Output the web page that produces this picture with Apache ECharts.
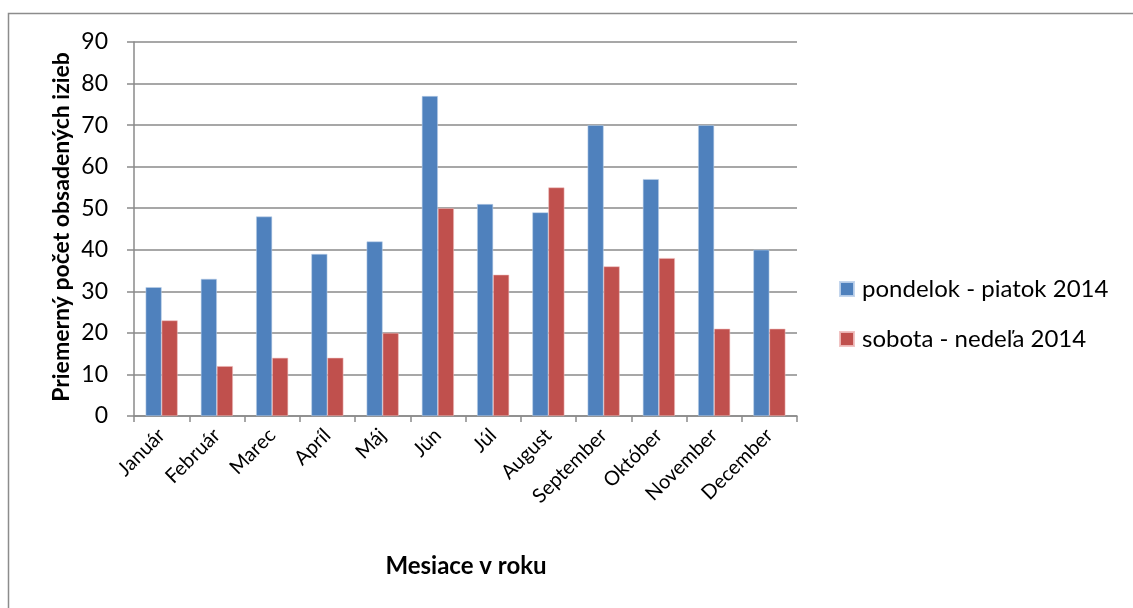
<!DOCTYPE html>
<html>
<head>
<meta charset="utf-8">
<script src="https://cdn.jsdelivr.net/npm/echarts@6/dist/echarts.min.js"></script>
<style>
  html, body { margin: 0; padding: 0; background: #fff; }
  #chart { width: 1133px; height: 608px; }
</style>
</head>
<body>
<div id="chart"></div>
<script>
// Months of the year
const months = ['Január', 'Február', 'Marec', 'Apríl', 'Máj', 'Jún', 'Júl', 'August', 'September', 'Október', 'November', 'December'];
// Average occupied rooms, weekdays
const weekdays2014 = [31, 33, 48, 39, 42, 77, 51, 49, 70, 57, 70, 40];
// Average occupied rooms, weekends
const weekends2014 = [23, 12, 14, 14, 20, 50, 34, 55, 36, 38, 21, 21];
const seriesNames = ['pondelok - piatok 2014', 'sobota - nedeľa 2014'];
const yTitle = 'Priemerný počet obsadených izieb';
const xTitle = 'Mesiace v roku';

const FONT = 'Lato, "Open Sans", sans-serif';
const GRID_COLOR = '#8a8a8a';

const chart = echarts.init(document.getElementById('chart'), null, { renderer: 'canvas' });

chart.setOption({
  animation: false,
  backgroundColor: '#fff',
  textStyle: { fontFamily: FONT },
  grid: { left: 134, top: 42, right: 336, bottom: 192, containLabel: false },
  legend: {
    orient: 'vertical',
    left: 839,
    top: 277,
    padding: 0,
    itemWidth: 14,
    itemHeight: 14,
    itemGap: 26,
    icon: 'rect',
    textStyle: { fontFamily: FONT, fontSize: 24, color: '#000', lineHeight: 24, padding: [0, 0, 0, 3] },
    data: seriesNames
  },
  xAxis: {
    type: 'category',
    data: months,
    axisLine: { lineStyle: { color: GRID_COLOR, width: 1.5 } },
    axisTick: { show: true, alignWithLabel: false, length: 6, lineStyle: { color: GRID_COLOR, width: 1.5 } },
    axisLabel: { rotate: 45, interval: 0, margin: 16, fontSize: 20, color: '#000', fontFamily: FONT }
  },
  yAxis: {
    type: 'value',
    min: 0,
    max: 90,
    interval: 10,
    axisLine: { show: true, lineStyle: { color: GRID_COLOR, width: 1.5 } },
    axisTick: { show: true, length: 7, lineStyle: { color: GRID_COLOR, width: 1.5 } },
    splitLine: { show: true, lineStyle: { color: GRID_COLOR, width: 1.5 } },
    axisLabel: { margin: 26, fontSize: 23, color: '#000', fontFamily: FONT }
  },
  series: [
    {
      name: seriesNames[0],
      type: 'bar',
      data: weekdays2014,
      barGap: '0%',
      barCategoryGap: '42%',
      itemStyle: { color: '#4F81BD', borderColor: 'rgba(190,210,235,0.9)', borderWidth: 0.6 }
    },
    {
      name: seriesNames[1],
      type: 'bar',
      data: weekends2014,
      barGap: '0%',
      barCategoryGap: '42%',
      itemStyle: { color: '#C0504D', borderColor: 'rgba(240,190,190,0.9)', borderWidth: 0.6 }
    }
  ],
  graphic: [
    {
      type: 'rect',
      silent: true,
      shape: { x: 8.5, y: 13.5, width: 1200, height: 700 },
      style: { fill: 'none', stroke: '#8c8c8c', lineWidth: 1.5 }
    },
    {
      type: 'text',
      x: 62,
      y: 227,
      rotation: Math.PI / 2,
      style: {
        text: yTitle,
        fontFamily: FONT,
        fontSize: 23,
        fontWeight: 'bold',
        fill: '#000',
        align: 'center',
        verticalAlign: 'middle'
      }
    },
    {
      type: 'text',
      x: 466,
      y: 566,
      style: {
        text: xTitle,
        fontFamily: FONT,
        fontSize: 24,
        fontWeight: 'bold',
        fill: '#000',
        align: 'center',
        verticalAlign: 'middle'
      }
    }
  ]
});
</script>
</body>
</html>
